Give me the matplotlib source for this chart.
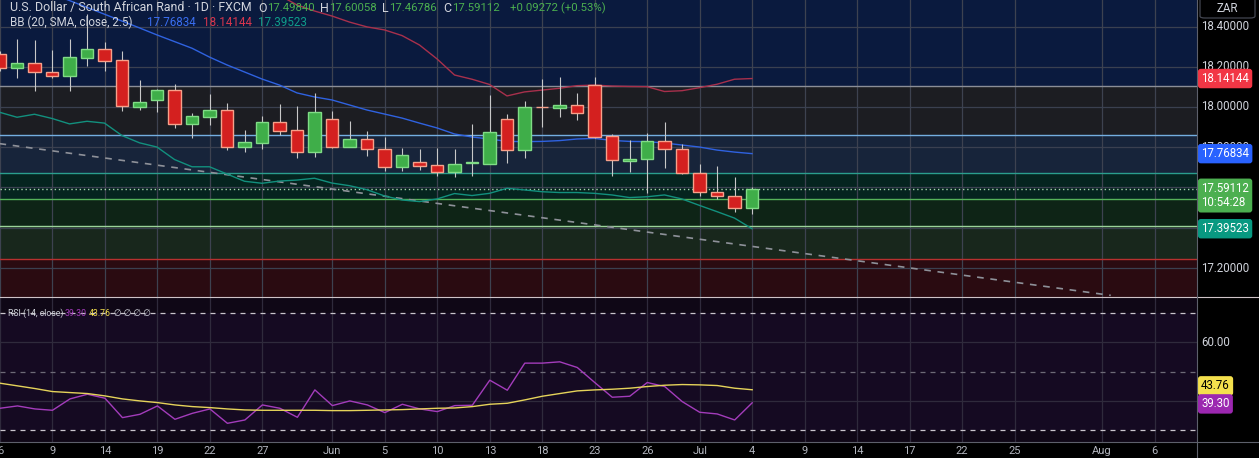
import matplotlib
matplotlib.use("Agg")
import matplotlib.pyplot as plt
from matplotlib.lines import Line2D
from matplotlib.patches import FancyBboxPatch
import numpy as np

plt.rcParams['font.family'] = ['Roboto', 'DejaVu Sans']

W, H = 1259, 458

# daily bars 6 May .. 4 Jul 2025, bar 0 = 4 Jul
bars = np.arange(-43, 1)

opens = [18.262, 18.192, 18.217, 18.172, 18.156, 18.245, 18.287, 18.232, 18.001, 18.036, 18.083,
         17.914, 17.952, 17.984, 17.803, 17.823, 17.924, 17.884, 17.778, 17.939, 17.803, 17.840,
         17.790, 17.703, 17.727, 17.710, 17.679, 17.722, 17.718, 17.939, 17.788, 18.002, 17.997,
         18.010, 18.109, 17.856, 17.733, 17.740, 17.831, 17.790, 17.671, 17.576, 17.558, 17.49840]
highs = [18.280, 18.338, 18.333, 18.283, 18.338, 18.460, 18.321, 18.278, 18.134, 18.089, 18.114,
         17.970, 18.065, 18.020, 17.886, 17.955, 18.015, 18.006, 18.068, 17.980, 17.930, 17.881,
         17.849, 17.796, 17.790, 17.796, 17.790, 17.916, 18.060, 17.965, 18.030, 18.139, 18.149,
         18.068, 18.148, 17.866, 17.836, 17.869, 17.925, 17.815, 17.715, 17.707, 17.654, 17.60058]
lows = [18.180, 18.146, 18.080, 18.146, 18.080, 18.204, 18.180, 17.980, 17.985, 17.977, 17.897,
        17.847, 17.911, 17.786, 17.778, 17.793, 17.861, 17.748, 17.753, 17.796, 17.800, 17.758,
        17.682, 17.682, 17.687, 17.659, 17.652, 17.659, 17.718, 17.722, 17.748, 17.902, 17.952,
        17.935, 17.844, 17.659, 17.679, 17.571, 17.698, 17.668, 17.558, 17.541, 17.480, 17.46786]
closes = [18.192, 18.217, 18.172, 18.156, 18.247, 18.287, 18.230, 18.003, 18.023, 18.083, 17.914,
          17.954, 17.984, 17.803, 17.826, 17.924, 17.882, 17.778, 17.974, 17.803, 17.840, 17.790,
          17.703, 17.760, 17.708, 17.679, 17.717, 17.725, 17.876, 17.788, 18.000, 17.998, 18.010,
          17.969, 17.852, 17.737, 17.743, 17.831, 17.790, 17.671, 17.576, 17.558, 17.497, 17.59112]

bb_basis = [18.665, 18.631, 18.596, 18.562, 18.529, 18.495, 18.461, 18.427, 18.393, 18.358, 18.325,
            18.292, 18.248, 18.209, 18.174, 18.139, 18.109, 18.070, 18.050, 18.035, 18.010, 17.985,
            17.965, 17.945, 17.920, 17.896, 17.866, 17.851, 17.841, 17.829, 17.828, 17.829, 17.833,
            17.841, 17.844, 17.834, 17.829, 17.828, 17.821, 17.811, 17.801, 17.786, 17.776, 17.76834]
bb_upper = [19.10, 19.07, 19.04, 19.01, 18.98, 18.95, 18.92, 18.89, 18.86, 18.83, 18.80,
            18.76, 18.72, 18.68, 18.64, 18.60, 18.555, 18.507, 18.477, 18.452, 18.422, 18.398,
            18.383, 18.355, 18.308, 18.239, 18.159, 18.138, 18.112, 18.055, 18.075, 18.084, 18.093,
            18.106, 18.109, 18.104, 18.102, 18.101, 18.077, 18.081, 18.096, 18.113, 18.138, 18.14144]
bb_lower = [17.974, 17.949, 17.964, 17.943, 17.916, 17.929, 17.920, 17.858, 17.822, 17.801, 17.739,
            17.703, 17.703, 17.667, 17.631, 17.621, 17.632, 17.637, 17.646, 17.622, 17.609, 17.589,
            17.558, 17.538, 17.530, 17.543, 17.570, 17.560, 17.571, 17.596, 17.588, 17.579, 17.575,
            17.575, 17.571, 17.563, 17.550, 17.554, 17.563, 17.543, 17.511, 17.480, 17.448, 17.39523]

rsi = [37.43, 38.23, 37.20, 36.74, 40.63, 42.23, 40.86, 34.23, 35.37, 38.23, 33.66,
       35.71, 37.20, 32.29, 33.43, 38.57, 37.43, 34.34, 43.71, 38.34, 39.94, 38.57,
       35.94, 38.80, 37.20, 36.29, 38.34, 38.46, 47.03, 43.60, 52.86, 52.86, 53.31,
       51.37, 46.23, 41.20, 41.54, 46.23, 44.86, 39.71, 36.06, 35.49, 33.43, 39.30]
rsi_ma = [46.00, 45.09, 44.17, 43.14, 42.80, 42.46, 41.66, 40.63, 39.94, 39.37, 38.57,
          38.00, 37.66, 37.20, 36.86, 36.74, 36.74, 36.74, 36.74, 36.63, 36.63, 36.74,
          36.86, 36.97, 37.20, 37.43, 37.54, 38.00, 38.80, 39.14, 40.29, 41.54, 42.46,
          43.37, 43.71, 43.94, 44.29, 44.86, 45.31, 45.54, 45.43, 45.20, 44.29, 43.76]

# user drawn horizontal levels (top to bottom) and the zones between them
levels = [18.104, 17.861, 17.671, 17.543, 17.409, 17.245]
level_colors = ['#8b8e97', '#74aee0', '#2a9e8e', '#55b25a', '#9ad39a', '#b8302f']
zone_colors = ['#0a1a3e', '#1c1d22', '#17243a', '#05241f', '#0e2416', '#18271c', '#2a0b11']

# dashed trend line anchors (bar, price)
trend_x = [-43, 20.5]
trend_y = [17.818, 17.064]

price_ticks = [18.4, 18.2, 18.0, 17.8, 17.6, 17.4, 17.2]
price_tick_labels = ['18.40000', '18.20000', '18.00000', '17.80000', '17.20000']
price_tick_shown = [18.4, 18.2, 18.0, 17.8, 17.2]

tick_idx = [-43, -40, -37, -34, -31, -28, -24, -21, -18, -15, -12, -9, -6, -3,
            0, 3, 6, 9, 12, 15, 20, 23]
tick_lbl = ['6', '9', '14', '19', '22', '27', 'Jun', '5', '10', '13', '18', '23', '26', 'Jul',
            '4', '9', '14', '17', '22', '25', 'Aug', '6']

last_price = 17.59112
countdown = '10:54:28'

# pixel layout of the screenshot
px_bar = 17.5
x_last = 752
plot_w = 1197
main_bottom = 297
rsi_bottom = 442
px_per_price = 201.25  # 18.0 sits at y=107


def fx(x):
    return x / W


def fy(y):
    return 1 - y / H


fig = plt.figure(figsize=(W / 100, H / 100), dpi=100, facecolor='black')
ax = fig.add_axes([0, fy(main_bottom), plot_w / W, main_bottom / H])
ax2 = fig.add_axes([0, fy(rsi_bottom), plot_w / W, (rsi_bottom - main_bottom) / H])

xlim = (-x_last / px_bar, (plot_w - x_last) / px_bar)
for a in (ax, ax2):
    a.set_xlim(xlim)
    for s in a.spines.values():
        s.set_visible(False)
    a.tick_params(left=False, right=False, top=False, bottom=False,
                  labelleft=False, labelbottom=False)
ax.set_ylim(18 - (main_bottom - 107) / px_per_price, 18 + 107 / px_per_price)

# background zones and levels
bounds = [19.5] + levels + [16.5]
for i, c in enumerate(zone_colors):
    ax.axhspan(bounds[i + 1], bounds[i], color=c, lw=0, zorder=0)
for p in price_ticks:
    ax.axhline(p, color='#3a4050', lw=0.9, zorder=1)
for t in tick_idx:
    ax.axvline(t, color='#3d4250', lw=0.9, zorder=1)
for p, c in zip(levels, level_colors):
    ax.axhline(p, color=c, lw=1.0, zorder=2)
ax.axhline(last_price, color='#a8d8ac', lw=1.0, ls=(0, (1, 2)), zorder=2)
ax.plot(trend_x, trend_y, color='#8e9199', lw=1.2, ls=(0, (4, 4)), zorder=2)

# bollinger bands
ax.plot(bars, bb_upper, color='#a8304c', lw=1.0, zorder=3)
ax.plot(bars, bb_basis, color='#2f62e0', lw=1.0, zorder=3)
ax.plot(bars, bb_lower, color='#12907e', lw=1.0, zorder=3)

# candles
o = np.array(opens)
c = np.array(closes)
up = c >= o
ax.vlines(bars, lows, highs, color='#c8c8c8', lw=0.8, zorder=4)
ax.bar(bars, np.maximum(np.abs(c - o), 0.004), bottom=np.minimum(o, c), width=0.7,
       color=np.where(up, '#3fae49', '#d4201f'), edgecolor=np.where(up, '#80dc86', '#f7a08a'),
       linewidth=1.0, zorder=5)

# RSI pane
ax2.set_ylim(30 - (rsi_bottom - 430) / 2.925, 70 + (313 - main_bottom) / 2.925)
ax2.set_facecolor('#0f0716')
ax2.axhspan(30, 70, color='#150a22', lw=0, zorder=0)
for t in tick_idx:
    ax2.axvline(t, color='#2f2a3c', lw=0.9, zorder=1)
for r in (60, 40):
    ax2.axhline(r, color='#2f2a3c', lw=0.9, zorder=1)
ax2.axhline(70, color='#c9c5cc', lw=0.9, ls=(0, (4, 4)), zorder=2)
ax2.axhline(30, color='#c9c5cc', lw=0.9, ls=(0, (4, 4)), zorder=2)
ax2.axhline(50, color='#6e6a78', lw=0.9, ls=(0, (4, 4)), zorder=2)
ax2.plot(bars, rsi, color='#a33cbb', lw=1.0, zorder=3)
ax2.plot(bars, rsi_ma, color='#e5d35a', lw=1.0, zorder=3)

ax2.set_xticks(tick_idx)
ax2.set_xticklabels(tick_lbl)
ax2.tick_params(axis='x', labelbottom=True, length=0, colors='#b2b5be', labelsize=8.0, pad=3)

# price scale labels and tags
def axis_label(a, y, text):
    a.annotate(text, xy=(1, y), xycoords=a.get_yaxis_transform(), xytext=(3.0, 0),
               textcoords='offset points', ha='left', va='center', fontsize=8.3,
               color='#d1d4dc', annotation_clip=False, zorder=8)


def tag(a, y, text, fc, tc, dy=0):
    a.annotate(text, xy=(1, y), xycoords=a.get_yaxis_transform(), xytext=(3.0, dy),
               textcoords='offset points', ha='left', va='center', fontsize=8.3, color=tc,
               linespacing=1.15, annotation_clip=False, zorder=10,
               bbox=dict(boxstyle='round,pad=0.28,rounding_size=0.25', fc=fc, ec='none'))


for p, lbl in zip(price_tick_shown, price_tick_labels):
    axis_label(ax, p, lbl)
tag(ax, bb_upper[-1], f'{bb_upper[-1]:.5f}', '#f23645', 'white')
tag(ax, bb_basis[-1], f'{bb_basis[-1]:.5f}', '#2962ff', 'white')
tag(ax, last_price, f'{last_price:.5f}\n{countdown}', '#4caf50', 'white', dy=-4.5)
tag(ax, bb_lower[-1], f'{bb_lower[-1]:.5f}', '#089981', 'white')

axis_label(ax2, 60, '60.00')
tag(ax2, rsi_ma[-1], f'{rsi_ma[-1]:.2f}', '#f4e04d', 'black', dy=2.8)
tag(ax2, rsi[-1], f'{rsi[-1]:.2f}', '#9c27b0', 'white', dy=-0.8)

# frame lines
fig.add_artist(Line2D([0, 1], [fy(main_bottom)] * 2, color='#cfc3c8', lw=0.8))
fig.add_artist(Line2D([0, 1], [fy(rsi_bottom)] * 2, color='#5d606b', lw=0.8))
fig.add_artist(Line2D([fx(plot_w)] * 2, [0, 1], color='#5d606b', lw=0.8))
fig.add_artist(FancyBboxPatch((fx(1200), fy(18)), fx(55), 24 / H, transform=fig.transFigure,
                              boxstyle='round,pad=0,rounding_size=0.004', fc='black',
                              ec='#434651', lw=0.9))
fig.text(fx(1227), fy(8), 'ZAR', ha='center', va='center', fontsize=8.3, color='#d1d4dc')

# legends
gray = '#d1d4dc'
green = '#4caf50'
header1 = [('U.S. Dollar / South African Rand · 1D · FXCM', 10, gray, 8.9),
           ('O', 258, gray, 8.9), (f'{opens[-1]:.5f}', 267, green, 8.2),
           ('H', 320, gray, 8.9), (f'{highs[-1]:.5f}', 329, green, 8.2),
           ('L', 382, gray, 8.9), (f'{lows[-1]:.5f}', 389, green, 8.2),
           ('C', 443, gray, 8.9), (f'{closes[-1]:.5f}', 452, green, 8.2),
           ('+0.09272 (+0.53%)', 510, green, 8.2)]
for txt, x, col, fs in header1:
    fig.text(fx(x), fy(8), txt, ha='left', va='center', fontsize=fs, color=col, zorder=20)

header2 = [('BB (20, SMA, close, 2.5)', 10, gray),
           (f'{bb_basis[-1]:.5f}', 147, '#3a6ef0'),
           (f'{bb_upper[-1]:.5f}', 203, '#d8364d'),
           (f'{bb_lower[-1]:.5f}', 258, '#0f9d8a')]
for txt, x, col in header2:
    fig.text(fx(x), fy(22), txt, ha='left', va='center', fontsize=8.4, color=col, zorder=20)

rsi_leg = [('RSI (14, close)', 8, gray), (f'{rsi[-1]:.2f}', 65, '#a33cbb'),
           (f'{rsi_ma[-1]:.2f}', 89, '#f4e04d'), ('∅ ∅ ∅ ∅', 114, gray)]
for txt, x, col in rsi_leg:
    fig.text(fx(x), fy(313), txt, ha='left', va='center', fontsize=6.3, color=col, zorder=20)

fig.savefig('out.png', dpi=100, facecolor='black')
